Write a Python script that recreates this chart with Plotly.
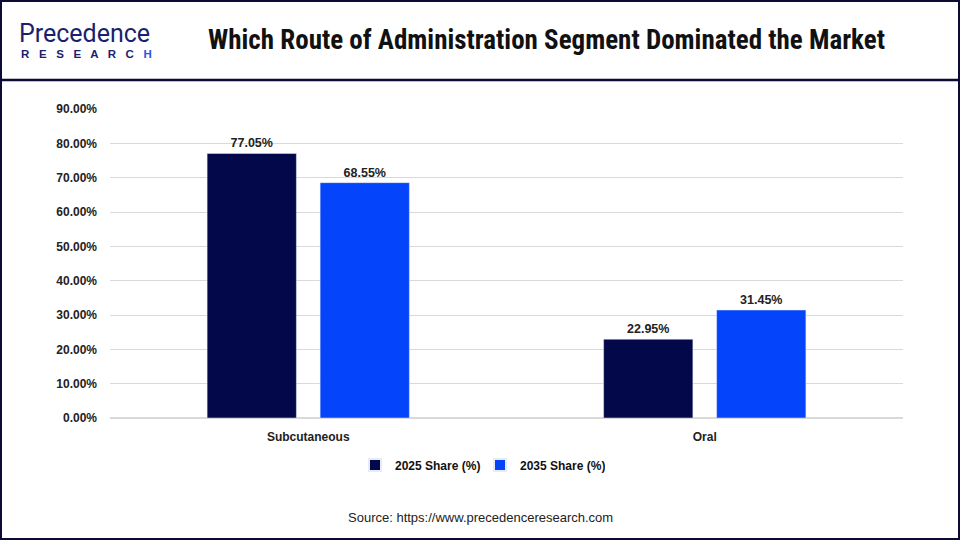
import plotly.graph_objects as go

categories = ["Subcutaneous", "Oral"]
series_names = ["2025 Share (%)", "2035 Share (%)"]
share_2025 = [77.05, 22.95]
share_2035 = [68.55, 31.45]
tick_vals = [0, 10, 20, 30, 40, 50, 60, 70, 80, 90]
tick_text = [f"{v:.2f}%" for v in tick_vals]

colors = ["#020849", "#0444FB"]
W, H = 960, 540
L, R, T, B = 110, 903, 109, 418

def px(x):
    return (x - L) / (R - L)

def py(y):
    return (B - y) / (B - T)

font_b = "Liberation Sans, Arial"

fig = go.Figure()
for name, vals, c in zip(series_names, [share_2025, share_2035], colors):
    fig.add_trace(go.Bar(
        x=categories, y=vals, name=f"<b>{name}</b>", marker_color=c,
        text=[f"{v:.2f}%" for v in vals], texttemplate="<b>%{text}</b>",
        textposition="outside",
        textfont=dict(family=font_b, size=12.5, color="#222222"),
        cliponaxis=False,
    ))

fig.update_layout(
    width=W, height=H,
    margin=dict(l=L, r=W - R, t=T, b=H - B),
    paper_bgcolor="white", plot_bgcolor="white",
    barmode="group", bargap=0.43, bargroupgap=0.21,
    showlegend=True,
    legend=dict(orientation="h", x=px(355), xanchor="left", y=py(465), yanchor="middle",
                font=dict(family=font_b, size=12, color="#111111"),
                entrywidth=80, entrywidthmode="pixels",
                itemwidth=30, itemsizing="constant", traceorder="normal"),
    xaxis=dict(showgrid=False, showline=False, ticks="", ticklabelstandoff=10,
               tickvals=categories, ticktext=[f"<b>{c}</b>" for c in categories],
               tickfont=dict(family=font_b, size=12, color="#222222")),
    yaxis=dict(range=[0, 90], tickvals=tick_vals, ticktext=[f"<b>{t}</b>" for t in tick_text],
               showgrid=True, gridcolor="#D9D9D9", gridwidth=1, zeroline=True,
               zerolinecolor="#D9D9D9", showline=False, ticks="", ticklabelstandoff=12,
               tickfont=dict(family=font_b, size=12, color="#222222")),
    font=dict(family=font_b),
)

navy = "#0B0B36"
shapes = [
    dict(type="rect", xref="paper", yref="paper", x0=px(1), x1=px(959), y0=py(1), y1=py(539),
         line=dict(color=navy, width=2), fillcolor="rgba(0,0,0,0)", layer="above"),
    dict(type="line", xref="paper", yref="paper", x0=px(1), x1=px(959), y0=py(80), y1=py(80),
         line=dict(color=navy, width=2.5)),
]
fig.update_layout(shapes=shapes)

ann = [
    dict(text="<b>Which Route of Administration Segment Dominated the Market</b>",
         x=px(546), y=py(40), xref="paper", yref="paper", showarrow=False,
         xanchor="center", yanchor="middle",
         font=dict(family="Liberation Sans Narrow, Roboto Condensed, Roboto", size=27, color="#111111")),
    dict(text="Precedence", x=px(17), y=py(33), xref="paper", yref="paper", showarrow=False,
         xanchor="left", yanchor="middle",
         font=dict(family="Liberation Sans Narrow, Roboto", size=25, color="#1C1F6B")),
    dict(text="<b>R   E   S   E   A   R   C   </b><b style='color:#2A55E0'>H</b>", x=px(19), y=py(54),
         xref="paper", yref="paper", showarrow=False, xanchor="left", yanchor="middle",
         font=dict(family="Liberation Sans, Arial", size=11.5, color="#1C1F6B")),
    dict(text="Source: https://www.precedenceresearch.com", x=px(480), y=py(517),
         xref="paper", yref="paper", showarrow=False, xanchor="center", yanchor="middle",
         font=dict(family="Liberation Sans, Arial", size=13, color="#222222")),
]
fig.update_layout(annotations=ann)

fig.write_html("out.html", config={"displayModeBar": False},
               post_script="document.body.style.margin='0';document.body.style.overflow='hidden';")
